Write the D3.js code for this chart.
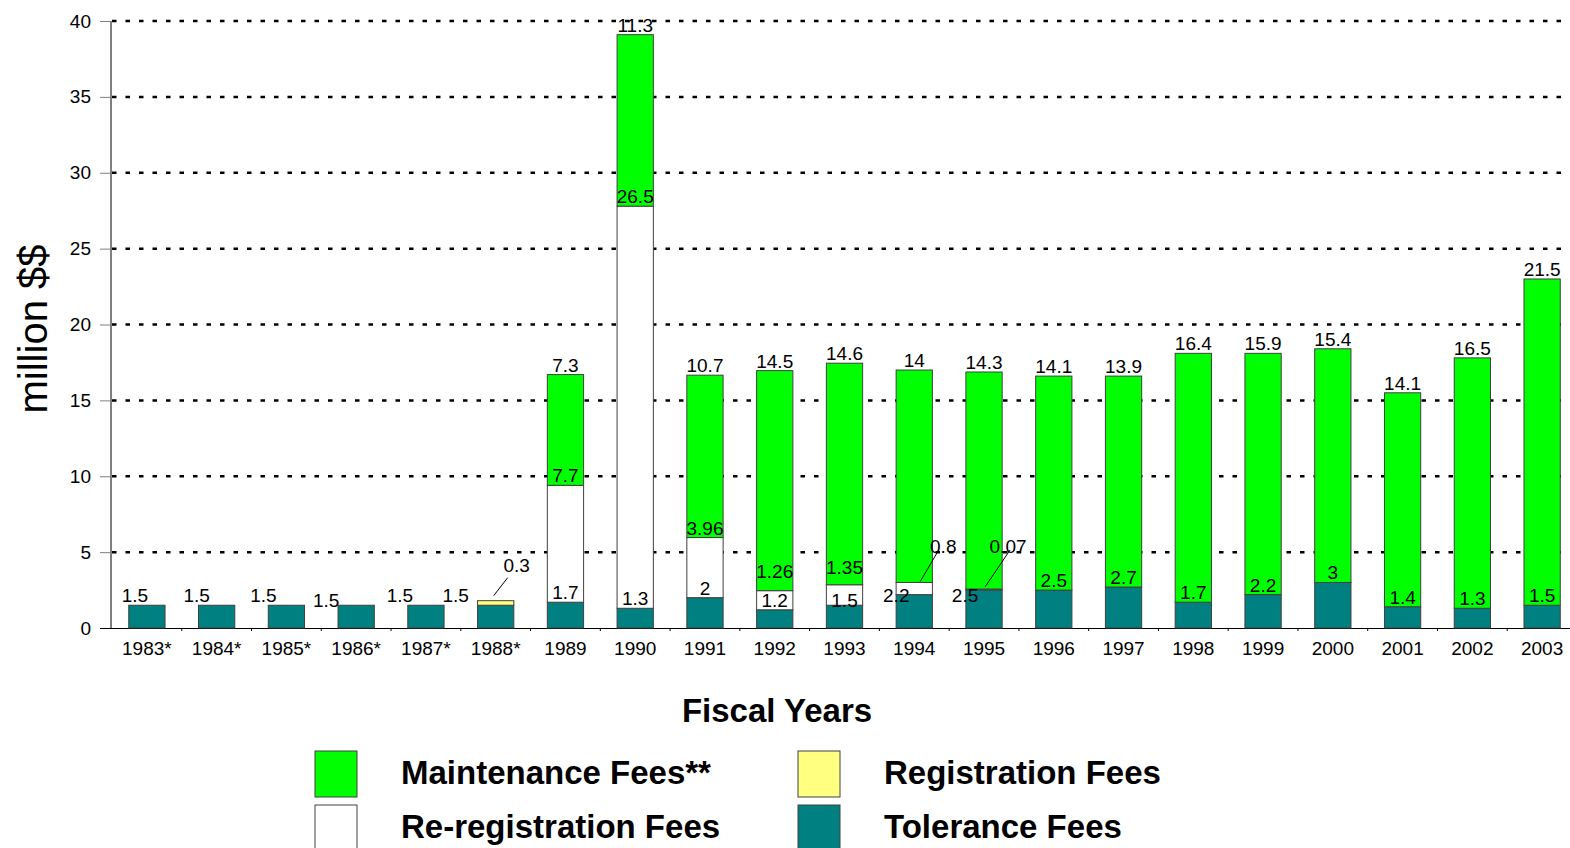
<!DOCTYPE html>
<html>
<head>
<meta charset="utf-8">
<script src="https://cdn.jsdelivr.net/npm/d3@7"></script>
<style>
  html, body { margin: 0; padding: 0; background: #fff; }
  svg { display: block; font-family: "Liberation Sans", Arial, sans-serif; }
</style>
</head>
<body>
<div id="chart"></div>
<script>
// fiscal years, bottom-to-top stack order: tolerance, registration, re-registration, maintenance
const years = ['1983*', '1984*', '1985*', '1986*', '1987*', '1988*', '1989', '1990', '1991', '1992',
  '1993', '1994', '1995', '1996', '1997', '1998', '1999', '2000', '2001', '2002', '2003'];
const tolerance = [1.5, 1.5, 1.5, 1.5, 1.5, 1.5, 1.7, 1.3, 2, 1.2, 1.5, 2.2, 2.5, 2.5, 2.7, 1.7, 2.2, 3, 1.4, 1.3, 1.5];
const registration = [0, 0, 0, 0, 0, 0.3, 0, 0, 0, 0, 0, 0, 0, 0, 0, 0, 0, 0, 0, 0, 0];
const reregistration = [0, 0, 0, 0, 0, 0, 7.7, 26.5, 3.96, 1.26, 1.35, 0.8, 0.07, 0, 0, 0, 0, 0, 0, 0, 0];
const maintenance = [0, 0, 0, 0, 0, 0, 7.3, 11.3, 10.7, 14.5, 14.6, 14, 14.3, 14.1, 13.9, 16.4, 15.9, 15.4, 14.1, 16.5, 21.5];
const yTicks = [0, 5, 10, 15, 20, 25, 30, 35, 40];

const seriesKeys = ['tolerance', 'registration', 'reregistration', 'maintenance'];
const seriesNames = {
  maintenance: 'Maintenance Fees**',
  reregistration: 'Re-registration Fees',
  registration: 'Registration Fees',
  tolerance: 'Tolerance Fees'
};
const colors = {
  tolerance: '#008080',
  registration: '#ffff80',
  reregistration: '#ffffff',
  maintenance: '#00ff00'
};

// hand placement of crowded value labels (offsets from default spot)
const nudges = {
  '1983*|tolerance': { dx: -12, dy: 0 },
  '1984*|tolerance': { dx: -20, dy: 0 },
  '1985*|tolerance': { dx: -23, dy: 0 },
  '1986*|tolerance': { dx: -30, dy: 5 },
  '1987*|tolerance': { dx: -26, dy: 0 },
  '1988*|tolerance': { dx: -40, dy: 0 },
  '1988*|registration': { dx: 21, dy: -26, leader: [-9, 6, -2, -5] },
  '1992|reregistration': { dx: 0, dy: -10 },
  '1993|tolerance': { dx: 0, dy: 5 },
  '1993|reregistration': { dx: 0, dy: -8 },
  '1994|tolerance': { dx: -18, dy: 10 },
  '1994|reregistration': { dx: 29, dy: -26, leader: [-6, -1, 6, -1] },
  '1995|tolerance': { dx: -19, dy: 15 },
  '1995|reregistration': { dx: 24, dy: -33, leader: [2, -3, 1, -2] }
};

const width = 1570, height = 848;
const svg = d3.select('#chart').append('svg')
  .attr('width', width)
  .attr('height', height);

const x = d3.scaleBand()
  .domain(years)
  .range([112, 1577])
  .paddingInner(0.48)
  .paddingOuter(0.24);

const y = d3.scaleLinear()
  .domain([0, 40])
  .range([628, 21]);

// gridlines
svg.append('g')
  .selectAll('line')
  .data(yTicks.filter(d => d > 0))
  .join('line')
  .attr('x1', 112)
  .attr('x2', width)
  .attr('y1', d => y(d))
  .attr('y2', d => y(d))
  .attr('stroke', '#000')
  .attr('stroke-width', 2.5)
  .attr('stroke-dasharray', '4.5,9');

// y axis
const yAxis = svg.append('g')
  .attr('transform', 'translate(111,0)')
  .call(d3.axisLeft(y).tickValues(yTicks).tickSize(11).tickPadding(9));
yAxis.select('.domain').attr('stroke', '#000').attr('d', `M0,${y(40)}V${y(0)}`);
yAxis.selectAll('.tick line').attr('stroke', '#808080');
yAxis.selectAll('.tick text')
  .attr('font-size', 19)
  .attr('font-family', '"Liberation Sans", Arial, sans-serif')
  .attr('fill', '#000');

// x axis
const xAxis = svg.append('g')
  .attr('transform', `translate(0,${y(0)})`)
  .call(d3.axisBottom(x).tickSize(0).tickPadding(14));
xAxis.select('.domain').attr('d', `M100,0.5H${width}`).attr('stroke', '#000');
xAxis.selectAll('.tick text')
  .attr('font-size', 19)
  .attr('font-family', '"Liberation Sans", Arial, sans-serif')
  .attr('fill', '#000');
// small ticks between categories
xAxis.append('g')
  .selectAll('line')
  .data(years.slice(1))
  .join('line')
  .attr('x1', d => x(d) - x.step() * x.paddingInner() / 2)
  .attr('x2', d => x(d) - x.step() * x.paddingInner() / 2)
  .attr('y1', 0)
  .attr('y2', 3)
  .attr('stroke', '#000');

// stacked bars
const table = years.map((yr, i) => ({
  year: yr,
  tolerance: tolerance[i],
  registration: registration[i],
  reregistration: reregistration[i],
  maintenance: maintenance[i]
}));
const stacked = d3.stack().keys(seriesKeys)(table);

const layers = svg.append('g')
  .selectAll('g')
  .data(stacked)
  .join('g')
  .attr('fill', d => colors[d.key]);

layers.selectAll('rect')
  .data(d => d.filter(s => s[1] - s[0] > 0))
  .join('rect')
  .attr('x', d => x(d.data.year))
  .attr('width', x.bandwidth())
  .attr('y', d => y(d[1]))
  .attr('height', d => y(d[0]) - y(d[1]))
  .attr('stroke', '#404040')
  .attr('stroke-width', 1);

// value labels
const labels = [];
stacked.forEach(layer => {
  layer.forEach(s => {
    const v = s.data[layer.key];
    if (v <= 0) return;
    const key = s.data.year + '|' + layer.key;
    const n = nudges[key] || { dx: 0, dy: 0 };
    labels.push({
      text: String(v),
      cx: x(s.data.year) + x.bandwidth() / 2,
      top: y(s[1]),
      lx: x(s.data.year) + x.bandwidth() / 2 + n.dx,
      ly: y(s[1]) - 3 + n.dy,
      leader: n.leader
    });
  });
});

svg.append('g')
  .selectAll('line')
  .data(labels.filter(d => d.leader))
  .join('line')
  .attr('x1', d => d.lx + d.leader[0])
  .attr('y1', d => d.ly + d.leader[1])
  .attr('x2', d => d.cx + d.leader[2])
  .attr('y2', d => d.top + d.leader[3])
  .attr('stroke', '#000')
  .attr('stroke-width', 1);

svg.append('g')
  .selectAll('text')
  .data(labels)
  .join('text')
  .attr('x', d => d.lx)
  .attr('y', d => d.ly)
  .attr('text-anchor', 'middle')
  .attr('font-size', 19)
  .attr('fill', '#000')
  .text(d => d.text);

// axis titles
svg.append('text')
  .attr('transform', 'translate(47,329) rotate(-90)')
  .attr('text-anchor', 'middle')
  .attr('font-size', 40)
  .text('million $$');

svg.append('text')
  .attr('x', 777)
  .attr('y', 722)
  .attr('text-anchor', 'middle')
  .attr('font-size', 33)
  .attr('font-weight', 'bold')
  .text('Fiscal Years');

// legend
const legendItems = [
  { key: 'maintenance', bx: 315, by: 751 },
  { key: 'reregistration', bx: 315, by: 805 },
  { key: 'registration', bx: 798, by: 751 },
  { key: 'tolerance', bx: 798, by: 805 }
];
const legend = svg.append('g')
  .selectAll('g')
  .data(legendItems)
  .join('g');
legend.append('rect')
  .attr('x', d => d.bx)
  .attr('y', d => d.by)
  .attr('width', 42)
  .attr('height', 46)
  .attr('fill', d => colors[d.key])
  .attr('stroke', '#404040');
legend.append('text')
  .attr('x', d => d.bx + 86)
  .attr('y', d => d.by + 33)
  .attr('font-size', 33)
  .attr('font-weight', 'bold')
  .text(d => seriesNames[d.key]);
</script>
</body>
</html>
